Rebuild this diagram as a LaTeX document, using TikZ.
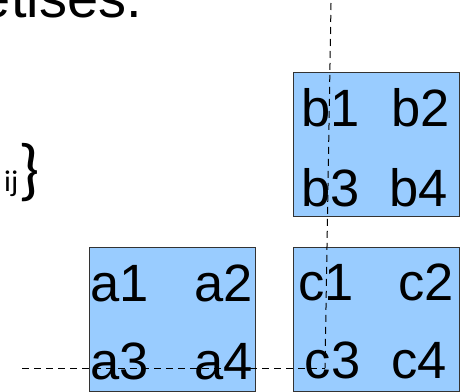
\documentclass[tikz,border=0pt]{standalone}
\usepackage{fontspec}
\setmainfont{Liberation Sans}
\newfontfamily\calib{Carlito}
\definecolor{boxfill}{HTML}{99CCFF}
\definecolor{boxline}{HTML}{333333}
\begin{document}
\begin{tikzpicture}[x=1pt,y=-1pt,
  cell/.style={draw=boxline, fill=boxfill, line width=1pt, inner sep=0pt, outer sep=0pt, anchor=north west, minimum width=166.5pt, minimum height=144pt},
  lab/.style={anchor=base west, inner sep=0pt, font=\fontsize{52.5}{60}\selectfont},
  guide/.style={draw=black, line width=1pt, dash pattern=on 7pt off 5pt}]
\useasboundingbox (0,0) rectangle (465,391);
\clip (0,0) rectangle (465,391);
% top text (cropped)
\node[anchor=base east, inner sep=0pt, font=\fontsize{56}{60}\selectfont] (title) at (142,17) {etises.};
% subscript and brace
\node[anchor=base west, inner sep=0pt, font=\calib\fontsize{30}{32}\selectfont] (sub) at (4,191.5) {ij};
\node[anchor=base west, inner sep=0pt, font=\calib\fontsize{68}{70}\selectfont] (brace) at (18.5,192) {\}};
% boxes
\node[cell] (A) at (89.3,247.3) {};
\node[cell] (B) at (293.3,72.7) {};
\node[cell] (C) at (293.3,247.3) {};
% labels
\node[lab] (a1) at (90.5,301.7) {a1};
\node[lab] (a2) at (194.5,301.7) {a2};
\node[lab] (a3) at (90.5,379) {a3};
\node[lab] (a4) at (194.5,379) {a4};
\node[lab] (b1) at (301.6,126.7) {b1};
\node[lab] (b2) at (391.6,126.7) {b2};
\node[lab] (b3) at (301.6,206) {b3};
\node[lab] (b4) at (389.6,206) {b4};
\node[lab] (c1) at (298,300.7) {c1};
\node[lab] (c2) at (398,300.7) {c2};
\node[lab] (c3) at (304.7,378.3) {c3};
\node[lab] (c4) at (391,378.3) {c4};
% dashed guides
\coordinate (hs) at (22,368);
\coordinate (cross) at (325,368);
\coordinate (vt) at (331,3);
\draw[guide] (hs) -- (cross);
\draw[guide] (vt) -- (cross);
\end{tikzpicture}
\end{document}
